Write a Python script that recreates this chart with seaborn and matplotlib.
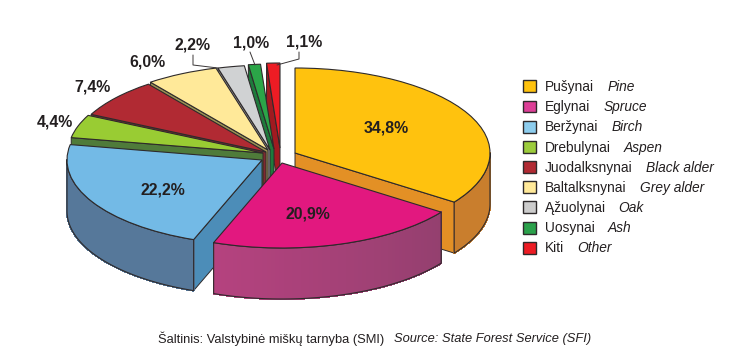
import numpy as np
import matplotlib
matplotlib.use("Agg")
import matplotlib.pyplot as plt
from matplotlib.patches import Patch
from matplotlib.colors import to_rgb
import seaborn as sns

# ---- data ----
names_lt = ["Pušynai", "Eglynai", "Beržynai", "Drebulynai", "Juodalksnynai",
            "Baltalksnynai", "Ąžuolynai", "Uosynai", "Kiti"]
names_en = ["Pine", "Spruce", "Birch", "Aspen", "Black alder",
            "Grey alder", "Oak", "Ash", "Other"]
shares = [34.8, 20.9, 22.2, 4.4, 7.4, 6.0, 2.2, 1.0, 1.1]
value_labels = ["34,8%", "20,9%", "22,2%", "4,4%", "7,4%", "6,0%", "2,2%", "1,0%", "1,1%"]

# ---- styles ----
top_colors = ["#FFC20E", "#E2187F", "#73BAE6", "#99CC33", "#B12A33",
              "#FFE999", "#D0D2D3", "#2BA548", "#ED1C24"]
swatch_colors = ["#FFC20E", "#DD3F97", "#8DCDEE", "#9CCC3C", "#B12A33",
                 "#FFE999", "#CCCCCC", "#2BA14B", "#ED1C24"]
radial_colors = ["#E39025", "#A0427A", "#4C8DB8", "#4F7B3A", "#7E2A2F",
                 "#9C9254", "#9A9A9C", "#1E7B3C", "#A01A20"]
outer_left = ["#C97E2D", "#B5427F", "#56789A", "#4F7B3A", "#7E2A2F",
              "#9C9254", "#9A9A9C", "#1E7B3C", "#A01A20"]
outer_right = ["#C97E2D", "#94406F", "#56789A", "#4F7B3A", "#7E2A2F",
               "#9C9254", "#9A9A9C", "#1E7B3C", "#A01A20"]
# layout, in reference pixels
apex_px = [(295, 153), (282, 163), (262, 160), (263, 153), (266, 152),
           (268, 150), (270, 150), (274, 149), (280, 148)]
label_px = [(386, 128), (308, 214), (163, 190), (55, 122), (93, 87),
            (147, 62), (193, 45), (251, 43), (304, 42)]
paint_order = [8, 7, 6, 5, 4, 3, 2, 0, 1]
W, H = 748, 361
RADIUS = 195
SQUASH = 85 / 195
DEPTH = 51 / SQUASH
INK = "#231F20"
EDGE = "#2E2A2B"

sns.set_theme(style="white")
plt.rcParams["font.family"] = ["Liberation Sans", "DejaVu Sans"]


def X(px):
    return px


def Y(py):
    return (H - py) / SQUASH


fig = plt.figure(figsize=(W / 100, H / 100), dpi=100, facecolor="white")
ax = fig.add_axes([0, 0, 1, 1])

wedges, _ = ax.pie(shares, colors=sns.color_palette(top_colors), startangle=90,
                   counterclock=False, radius=RADIUS, center=(280, Y(153)),
                   frame=True, wedgeprops=dict(edgecolor=EDGE, linewidth=0.8))
ax.set_aspect("auto")
ax.set_xlim(0, W)
ax.set_ylim(0, H / SQUASH)
ax.axis("off")


def lerp(c1, c2, t):
    a, b = np.array(to_rgb(c1)), np.array(to_rgb(c2))
    return tuple(a + (b - a) * t)


for rank, i in enumerate(paint_order):
    w = wedges[i]
    cx, cy = X(apex_px[i][0]), Y(apex_px[i][1])
    w.set_center((cx, cy))
    w.set_zorder(10 * rank + 3)
    t1, t2 = w.theta1, w.theta2
    # radial wall that faces the viewer
    for theta, sign in ((t1, 1), (t2, -1)):
        c = np.cos(np.radians(theta))
        if sign * c > 1e-6:
            ex = cx + RADIUS * c
            ey = cy + RADIUS * np.sin(np.radians(theta))
            ax.fill([cx, ex, ex, cx], [cy, ey, ey - DEPTH, cy - DEPTH],
                    facecolor=radial_colors[i], edgecolor=EDGE, linewidth=0.7,
                    zorder=10 * rank + 1)
    # outer wall, front half only
    a, b = max(t1, -180), min(t2, 0)
    if b > a:
        th = np.radians(np.linspace(a, b, 61))
        xs = cx + RADIUS * np.cos(th)
        ys = cy + RADIUS * np.sin(th)
        for k in range(len(th) - 1):
            col = lerp(outer_left[i], outer_right[i], k / (len(th) - 2))
            ax.fill([xs[k], xs[k + 1], xs[k + 1], xs[k]],
                    [ys[k], ys[k + 1], ys[k + 1] - DEPTH, ys[k] - DEPTH],
                    facecolor=col, edgecolor=col, linewidth=0.8, antialiased=False,
                    zorder=10 * rank + 2)
        ox = np.r_[xs, xs[::-1], xs[0]]
        oy = np.r_[ys, ys[::-1] - DEPTH, ys[0]]
        ax.plot(ox, oy, color=EDGE, lw=0.8, zorder=10 * rank + 2.5)

for text, (px, py) in zip(value_labels, label_px):
    ax.text(X(px), Y(py), text, ha="center", va="center", fontsize=11.4,
            fontweight="bold", color=INK, zorder=200)

# leader lines
leaders = [[(193, 55), (193, 65), (218, 68)],
           [(250, 52), (255, 65)],
           [(299, 52), (299, 59), (277, 65)]]
for line in leaders:
    ax.plot([X(p[0]) for p in line], [Y(p[1]) for p in line],
            color="#3A3637", lw=0.7, zorder=150)

# legend
handles = [Patch(facecolor=c, edgecolor=EDGE, linewidth=1.0) for c in swatch_colors]
leg = ax.legend(handles, names_lt, loc="upper left",
                bbox_to_anchor=(522.5 / W, 1 - 80 / H), frameon=False,
                fontsize=9.9, handlelength=0.95, handleheight=0.95,
                handletextpad=0.7, labelspacing=0.45, borderpad=0, borderaxespad=0,
                labelcolor=INK)
leg.set_zorder(250)
fig.canvas.draw()
for txt, en in zip(leg.get_texts(), names_en):
    ax.annotate(en, xy=(1, 0), xycoords=txt, xytext=(9.2, 0), textcoords="offset points",
                fontsize=9.9, fontstyle="italic", color=INK, va="bottom", ha="left",
                annotation_clip=False, zorder=300)

# source line
ax.text(X(158), Y(339), "Šaltinis: Valstybinė miškų tarnyba (SMI)", fontsize=9.3,
        color=INK, ha="left", va="center")
ax.text(X(394), Y(339), "Source: State Forest Service (SFI)", fontsize=9.3,
        fontstyle="italic", color=INK, ha="left", va="center")

fig.savefig("out.png", dpi=100, facecolor="white")
